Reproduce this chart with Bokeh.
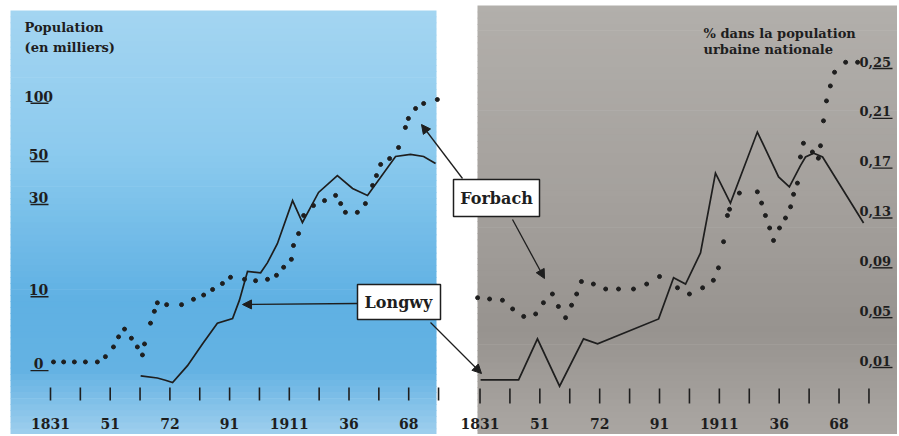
import numpy as np
from bokeh.plotting import figure
from bokeh.models import Range1d, LogScale, Arrow, NormalHead
from bokeh.core.properties import value
from bokeh.embed import file_html
from bokeh.resources import INLINE

# ---------------- data ----------------
# x positions are in census-tick units (0 = 1831, one unit per tick)
TICK_POS = list(range(14))
TICK_LABEL_POS = [0, 2, 4, 6, 8, 10, 12]
TICK_LABELS = ["1831", "51", "72", "91", "1911", "36", "68"]

# left panel : population (thousands), quasi-logarithmic axis
POP_TICKS = [4.15, 10, 30, 50, 100]
POP_TICK_LABELS = ["0", "10", "30", "50", "100"]

longwy_pop_x = [3.02, 3.58, 3.85, 4.09, 4.59, 5.09, 5.59, 6.10, 6.33, 6.60, 7.04, 7.27,
                7.60, 8.11, 8.44, 8.98, 9.61, 10.12, 10.62, 11.56, 12.06, 12.50, 12.90]
longwy_pop = [3.9, 3.8, 3.7, 3.6, 4.4, 5.7, 7.3, 7.7, 9.6, 13.5, 13.3, 15.0,
              18.8, 31.4, 24.2, 34.6, 42.3, 36.3, 33.4, 53.1, 54.4, 53.1, 48.8]

forbach_pop_x = [0.10, 0.44, 0.80, 1.17, 1.57, 1.84, 2.11, 2.28, 2.48, 2.71,
                 2.91, 3.08, 3.15, 3.35, 3.48, 3.58, 3.89, 4.39, 4.79, 5.13,
                 5.43, 5.76, 6.03, 6.50, 6.87, 7.27, 7.57, 7.81, 8.07, 8.14,
                 8.31, 8.48, 8.81, 9.18, 9.55, 9.72, 9.88, 10.28, 10.55, 10.79,
                 10.92, 11.06, 11.36, 11.66, 11.89, 11.99, 12.23, 12.50, 12.96]
forbach_pop = [4.6, 4.6, 4.6, 4.6, 4.6, 4.9, 5.5, 6.2, 6.8, 6.1,
               5.5, 5.0, 5.7, 7.3, 8.4, 9.3, 9.1, 9.1, 9.7, 10.2,
               10.9, 11.7, 12.6, 12.3, 12.1, 12.3, 12.9, 14.2, 15.6, 18.4,
               21.2, 26.3, 29.6, 31.4, 33.4, 30.3, 27.3, 27.3, 30.3, 37.6,
               42.3, 48.3, 51.8, 59.1, 75.0, 83.5, 94.0, 99.8, 104.6]

# right panel : % of national urban population
SHARE_TICKS = [0.01, 0.05, 0.09, 0.13, 0.17, 0.21, 0.25]
SHARE_TICK_LABELS = ["0,01", "0,05", "0,09", "0,13", "0,17", "0,21", "0,25"]

longwy_share_x = [0.02, 1.29, 1.92, 2.66, 3.46, 3.93, 5.97, 6.47, 6.87, 7.37,
                  7.87, 8.37, 9.27, 9.98, 10.34, 10.71, 10.88, 11.15, 11.45, 12.82]
longwy_share = [0.0, 0.0, 0.033, -0.005, 0.033, 0.029, 0.049, 0.082, 0.077, 0.102,
                0.166, 0.142, 0.199, 0.163, 0.155, 0.172, 0.179, 0.182, 0.179, 0.126]

forbach_share_x = [-0.08, 0.32, 0.75, 1.09, 1.46, 1.86, 2.12, 2.42, 2.62, 2.86,
                   3.06, 3.23, 3.39, 3.79, 4.20, 4.63, 5.13, 5.57, 6.00, 6.60,
                   7.00, 7.44, 7.80, 7.97, 8.14, 8.27, 8.34, 8.67, 9.27, 9.41,
                   9.54, 9.68, 9.81, 10.01, 10.21, 10.38, 10.48, 10.61, 10.71, 10.81,
                   11.11, 11.31, 11.38, 11.48, 11.58, 11.71, 11.85, 12.22, 12.62]
forbach_share = [0.066, 0.065, 0.064, 0.057, 0.051, 0.053, 0.062, 0.069, 0.059, 0.050,
                 0.060, 0.069, 0.079, 0.077, 0.073, 0.073, 0.073, 0.077, 0.083, 0.074,
                 0.069, 0.074, 0.080, 0.090, 0.111, 0.132, 0.137, 0.150, 0.151, 0.142,
                 0.132, 0.122, 0.112, 0.122, 0.130, 0.139, 0.149, 0.158, 0.179, 0.190,
                 0.183, 0.178, 0.188, 0.208, 0.224, 0.236, 0.247, 0.255, 0.255]

# ---------------- figure ----------------
FONT = value("DejaVu Serif")
INK = "#1e1e1e"
W, H = 897, 434

p = figure(width=W, height=H, x_range=Range1d(0, W), y_range=Range1d(H, 0),
           output_backend="svg", toolbar_location=None,
           x_axis_location=None, y_axis_location=None, min_border=0,
           outline_line_color=None, background_fill_color="white",
           border_fill_color="white")
p.grid.visible = False

# panel scales (census-tick units / values -> panel frames)
L_X0, L_DX = 50.0, 29.85
R_X0, R_DX = 479.5, 29.92
p.extra_x_ranges = {
    "lx": Range1d((0 - L_X0) / L_DX, (W - L_X0) / L_DX),
    "rx": Range1d((0 - R_X0) / R_DX, (W - R_X0) / R_DX),
}
L_LOG_C, L_Y_C, L_PPD = 1.544, 191.0, 193.4
R_V0, R_Y0, R_PPU = 0.01, 367.0, 1245.8
p.extra_y_ranges = {
    "ly": Range1d(10 ** (L_LOG_C - (H - L_Y_C) / L_PPD), 10 ** (L_LOG_C + L_Y_C / L_PPD)),
    "ry": Range1d(R_V0 - (H - R_Y0) / R_PPU, R_V0 + R_Y0 / R_PPU),
}
p.extra_y_scales = {"ly": LogScale()}


def hex2rgb(h):
    h = h.lstrip("#")
    return [int(h[i:i + 2], 16) for i in (0, 2, 4)]


def gradient_panel(x0, x1, y0, y1, stops, n=70):
    ys = np.linspace(y0, y1, n + 1)
    mids = (ys[:-1] + ys[1:]) / 2
    sy = [s[0] for s in stops]
    rgb = np.array([hex2rgb(s[1]) for s in stops], dtype=float)
    cols = []
    for m in mids:
        c = [int(round(np.interp(m, sy, rgb[:, k]))) for k in range(3)]
        cols.append("#%02x%02x%02x" % tuple(c))
    p.quad(left=x0, right=x1, top=ys[:-1], bottom=ys[1:] + 0.7,
           fill_color=cols, line_color=None)


gradient_panel(10, 436, 10, 434, [(10, "#a3d5f1"), (150, "#8ccaee"), (300, "#5fb1e3"),
                                  (370, "#64b2e3"), (434, "#9fcfee")])
gradient_panel(477, 899, 5, 436, [(5, "#b2afab"), (200, "#a4a09c"), (330, "#97938f"),
                                  (436, "#aba7a3")])

TXT = dict(text_font=FONT, text_font_style="bold", text_color=INK)

# titles
p.text(x=[24, 24], y=[27, 47], text=["Population", "(en milliers)"],
       text_align="left", text_baseline="middle", text_font_size="13px", **TXT)
p.text(x=[703, 703], y=[33, 49], text=["% dans la population", "urbaine nationale"],
       text_align="left", text_baseline="middle", text_font_size="13px", **TXT)

# x ticks and labels (both panels)
for xr, ytick in (("lx", (387, 400)), ("rx", (388, 403))):
    p.segment(x0=TICK_POS, x1=TICK_POS, y0=ytick[0], y1=ytick[1], x_range_name=xr,
              line_color=INK, line_width=1.6)
    p.text(x=TICK_LABEL_POS, y=423, text=TICK_LABELS, x_range_name=xr,
           text_align="center", text_baseline="alphabetic", text_font_size="14px", **TXT)

# left y ticks (underlined labels)
p.segment(x0=30, x1=48, y0=POP_TICKS, y1=POP_TICKS, y_range_name="ly",
          line_color=INK, line_width=1.4)
p.text(x=38, y=POP_TICKS, text=POP_TICK_LABELS, y_range_name="ly", y_offset=-7,
       text_align="center", text_baseline="alphabetic", text_font_size="14px", **TXT)

# right y ticks
p.segment(x0=872, x1=892, y0=SHARE_TICKS, y1=SHARE_TICKS, y_range_name="ry",
          line_color=INK, line_width=1.4)
p.text(x=859, y=SHARE_TICKS, text=SHARE_TICK_LABELS, y_range_name="ry", y_offset=-7,
       text_align="left", text_baseline="alphabetic", text_font_size="13px", **TXT)

# series
p.line(longwy_pop_x, longwy_pop, x_range_name="lx", y_range_name="ly",
       line_color=INK, line_width=1.7, line_join="miter")
p.scatter(forbach_pop_x, forbach_pop, x_range_name="lx", y_range_name="ly",
          size=4, color=INK)
p.line(longwy_share_x, longwy_share, x_range_name="rx", y_range_name="ry",
       line_color=INK, line_width=1.7, line_join="miter")
p.scatter(forbach_share_x, forbach_share, x_range_name="rx", y_range_name="ry",
          size=4, color=INK)

# label boxes
p.quad(left=[453, 357], right=[539, 440], top=[179, 284], bottom=[216, 319],
       fill_color="white", line_color=INK, line_width=1.5)
p.text(x=[496, 398], y=[198, 302], text=["Forbach", "Longwy"], text_align="center",
       text_baseline="middle", text_font_size="16px", **TXT)

# arrows
for xs, ys, xe, ye in [(462, 178, 421, 124), (512, 219, 544, 278),
                       (357, 303, 242, 304), (430, 322, 481, 373)]:
    p.add_layout(Arrow(end=NormalHead(size=9, fill_color=INK, line_color=INK),
                       x_start=xs, y_start=ys, x_end=xe, y_end=ye,
                       line_color=INK, line_width=1.3))

open("out.html", "w").write(file_html(p, INLINE))
